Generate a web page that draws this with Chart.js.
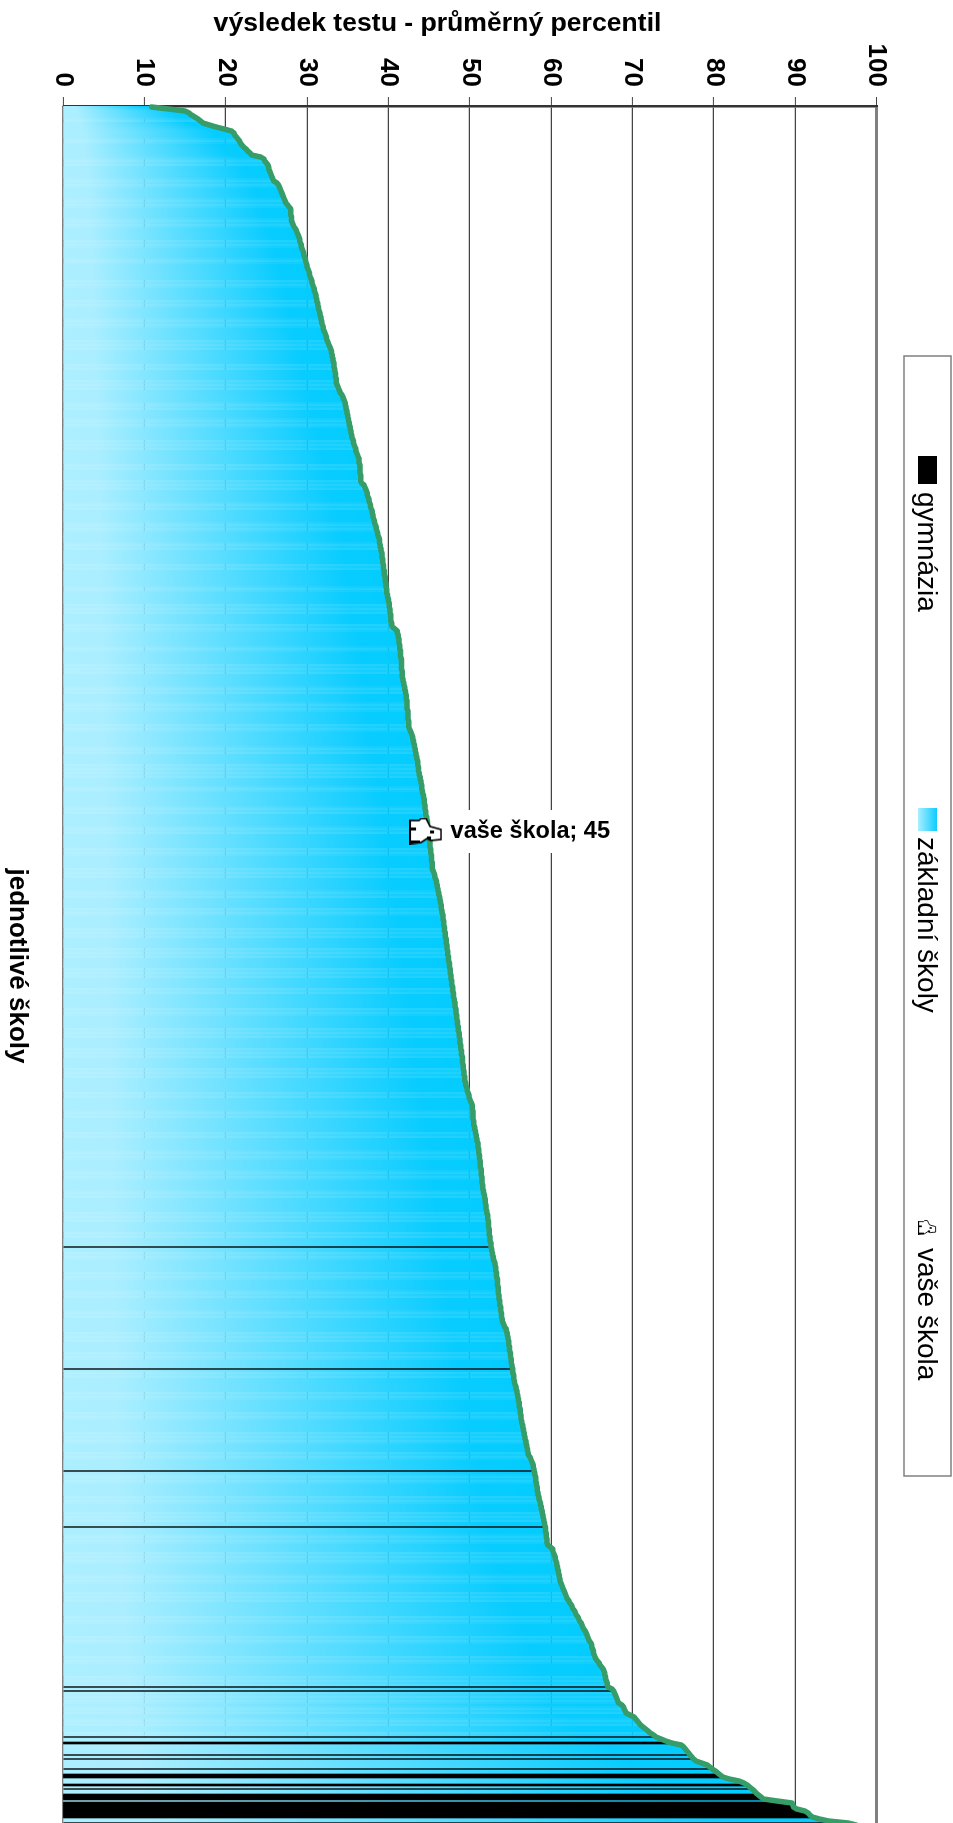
<!DOCTYPE html>
<html><head><meta charset="utf-8"><title>výsledek testu</title>
<style>
html,body{margin:0;padding:0;width:953px;height:1823px;overflow:hidden;background:#fff}
canvas{position:absolute;left:0;top:0;transform-origin:0 0;transform:translateX(953px) rotate(90deg)}
</style>
<script src="https://cdn.jsdelivr.net/npm/chart.js@4/dist/chart.umd.min.js"></script>
</head><body><canvas id="c" width="1830" height="953"></canvas>
<script>
const valueTitle = 'výsledek testu - průměrný percentil';
const categoryTitle = 'jednotlivé školy';
const seriesNames = ['gymnázia', 'základní školy', 'vaše škola'];
const yourSchoolRow = 362;
const yourSchoolValue = 45;
const schoolValues = [
10.9,13,15,15.5,15.8,16.2,16.6,16.9,17.2,18.0,
18.8,19.8,20.7,21.0,21.1,21.3,21.5,21.7,21.8,22.0,
22.2,22.5,22.7,23.0,23.2,24.3,24.7,24.8,25.0,25.2,
25.3,25.3,25.4,25.5,25.6,25.7,25.8,25.9,26.3,26.5,
26.6,26.7,26.8,26.9,27.0,27.1,27.2,27.3,27.4,27.6,
27.8,28.0,28.0,28.0,28.0,28.1,28.1,28.1,28.2,28.3,
28.4,28.6,28.7,28.8,28.9,29.0,29.1,29.1,29.2,29.3,
29.3,29.4,29.5,29.6,29.6,29.7,29.8,29.8,29.9,30.0,
30.0,30.1,30.2,30.3,30.3,30.4,30.5,30.6,30.6,30.7,
30.8,30.9,30.9,31.0,31.1,31.1,31.2,31.2,31.3,31.3,
31.4,31.4,31.5,31.6,31.6,31.7,31.7,31.8,31.8,31.9,
32.0,32.0,32.1,32.2,32.3,32.4,32.4,32.5,32.6,32.7,
32.8,32.9,33.0,33.0,33.1,33.1,33.2,33.2,33.3,33.3,
33.3,33.4,33.4,33.5,33.5,33.5,33.6,33.6,33.6,33.7,
33.8,33.9,34.0,34.1,34.3,34.4,34.5,34.6,34.7,34.7,
34.8,34.8,34.9,34.9,35.0,35.0,35.1,35.1,35.2,35.2,
35.3,35.3,35.4,35.4,35.5,35.5,35.6,35.7,35.7,35.8,
35.9,36.0,36.0,36.1,36.2,36.3,36.4,36.4,36.4,36.5,
36.5,36.5,36.5,36.5,36.6,36.6,36.6,36.6,36.7,37.0,
37.1,37.2,37.3,37.4,37.4,37.5,37.6,37.6,37.7,37.8,
37.8,37.9,38.0,38.0,38.1,38.1,38.2,38.3,38.3,38.4,
38.5,38.5,38.6,38.7,38.7,38.8,38.9,38.9,38.9,39.0,
39.0,39.1,39.1,39.2,39.2,39.2,39.3,39.3,39.3,39.4,
39.4,39.4,39.5,39.5,39.5,39.6,39.6,39.6,39.7,39.7,
39.7,39.8,39.8,39.8,39.9,39.9,40.0,40.0,40.1,40.1,
40.1,40.2,40.2,40.2,40.3,40.3,40.3,40.3,40.4,40.4,
40.5,40.8,41.1,41.1,41.2,41.2,41.3,41.3,41.3,41.4,
41.4,41.4,41.5,41.5,41.5,41.5,41.6,41.6,41.6,41.6,
41.6,41.6,41.7,41.7,41.7,41.7,41.8,41.8,41.9,41.9,
42.0,42.0,42.1,42.1,42.2,42.2,42.2,42.3,42.3,42.3,
42.3,42.3,42.4,42.4,42.4,42.4,42.4,42.5,42.5,42.5,
42.5,42.6,42.7,42.8,42.9,43.0,43.0,43.1,43.1,43.2,
43.2,43.3,43.3,43.4,43.4,43.5,43.5,43.6,43.6,43.6,
43.7,43.7,43.7,43.8,43.8,43.9,43.9,44.0,44.0,44.1,
44.1,44.1,44.2,44.2,44.3,44.3,44.4,44.4,44.4,44.5,
44.5,44.5,44.6,44.6,44.6,44.7,44.7,44.8,44.8,44.8,
44.9,44.9,45.0,45.0,45.0,45.0,45.0,45.1,45.1,45.1,
45.1,45.2,45.2,45.2,45.3,45.3,45.3,45.3,45.4,45.4,
45.4,45.4,45.5,45.6,45.7,45.7,45.8,45.9,45.9,46.0,
46.0,46.1,46.1,46.2,46.2,46.3,46.3,46.4,46.4,46.5,
46.5,46.5,46.6,46.6,46.7,46.7,46.7,46.8,46.8,46.8,
46.9,46.9,46.9,47.0,47.0,47.0,47.1,47.1,47.1,47.2,
47.2,47.2,47.3,47.3,47.3,47.4,47.4,47.4,47.5,47.5,
47.5,47.6,47.6,47.6,47.7,47.7,47.7,47.8,47.8,47.8,
47.9,47.9,47.9,48.0,48.0,48.0,48.1,48.1,48.2,48.2,
48.2,48.3,48.3,48.3,48.4,48.4,48.4,48.5,48.5,48.5,
48.6,48.6,48.6,48.7,48.7,48.7,48.8,48.8,48.8,48.9,
48.9,48.9,49.0,49.0,49.0,49.1,49.1,49.1,49.1,49.2,
49.2,49.2,49.3,49.3,49.3,49.4,49.4,49.4,49.5,49.5,
49.6,49.7,49.7,49.8,49.9,49.9,50.0,50.1,50.2,50.3,
50.3,50.3,50.4,50.4,50.4,50.4,50.4,50.5,50.5,50.5,
50.6,50.6,50.7,50.7,50.8,50.8,50.9,50.9,51.0,51.0,
51.0,51.1,51.1,51.1,51.2,51.2,51.2,51.3,51.3,51.3,
51.3,51.4,51.4,51.4,51.4,51.5,51.5,51.5,51.5,51.6,
51.6,51.6,51.7,51.7,51.8,51.8,51.9,51.9,51.9,52.0,
52.0,52.0,52.1,52.1,52.2,52.2,52.2,52.3,52.3,52.3,
52.3,52.4,52.4,52.4,52.4,52.5,52.5,52.5,52.6,52.6,
52.6,52.7,52.7,52.8,52.8,52.9,52.9,53.0,53.1,53.1,
53.2,53.2,53.2,53.3,53.3,53.3,53.4,53.4,53.4,53.4,
53.5,53.5,53.5,53.5,53.6,53.6,53.6,53.7,53.7,53.7,
53.8,53.8,53.8,53.9,53.9,53.9,54.0,54.0,54.1,54.2,
54.3,54.5,54.5,54.6,54.6,54.7,54.7,54.8,54.8,54.8,
54.9,54.9,54.9,55.0,55.0,55.0,55.1,55.1,55.1,55.2,
55.2,55.3,55.3,55.3,55.4,55.4,55.4,55.5,55.5,55.6,
55.7,55.7,55.8,55.8,55.9,55.9,56.0,56.0,56.1,56.1,
56.1,56.2,56.2,56.2,56.3,56.3,56.3,56.4,56.4,56.5,
56.5,56.6,56.6,56.7,56.7,56.8,56.8,56.9,56.9,57.0,
57.0,57.1,57.1,57.2,57.2,57.4,57.5,57.6,57.7,57.8,
57.8,57.9,57.9,58.0,58.0,58.1,58.1,58.1,58.2,58.2,
58.3,58.3,58.3,58.4,58.4,58.5,58.5,58.6,58.7,58.7,
58.8,58.8,58.9,58.9,59.0,59.0,59.1,59.1,59.2,59.2,
59.3,59.3,59.3,59.4,59.4,59.4,59.5,59.5,59.5,59.6,
59.9,60.2,60.2,60.3,60.4,60.5,60.5,60.6,60.7,60.7,
60.8,60.8,60.9,60.9,61.0,61.0,61.1,61.1,61.2,61.3,
61.4,61.5,61.6,61.7,61.8,61.9,62.0,62.2,62.3,62.5,
62.6,62.7,62.9,63.0,63.1,63.3,63.4,63.5,63.7,63.8,
63.9,64.0,64.2,64.3,64.4,64.5,64.6,64.7,64.9,65.0,
65.0,65.1,65.2,65.2,65.3,65.4,65.5,65.7,65.9,66.0,
66.2,66.4,66.5,66.6,66.6,66.7,66.7,66.8,66.9,66.9,
67.0,67.5,67.7,67.8,67.9,68.0,68.1,68.2,68.3,68.7,
68.9,69.0,69.1,69.2,69.7,70.2,70.4,70.6,70.8,71.0,
71.3,71.6,71.9,72.2,72.6,72.9,73.5,74.1,74.8,76.0,
76.3,76.5,76.7,76.9,77.1,77.3,77.5,77.8,78.5,79.2,
79.5,79.8,80.2,80.5,80.8,81.1,81.9,83.1,83.7,84.1,
84.4,84.7,85.0,85.2,85.5,85.8,86.1,87.8,89.6,89.7,
89.8,90.2,91.2,91.6,91.8,92.1,93.0,94.1,96.5,97.5
];
const gymnaziumRowsThin = [570,631,682,710,790,792,815,824,826,831,841,858];
const gymnaziumRowsSolid = [818,834,835,839,844,845,846,848,849,850,851,852,853,854,855];
const paleBandStarts = [6,16,26,36,46,56,67,76,87,97,106,117,129,137,148,156,167,179,187,198,208,218,229,240,249,259,270,279,290,298,309,320,329,340,350,360,371,381,392,401,411,421,431,441,451,461,471,481,493,502,513,522,532,542,553,563,573,583,592,602,613,623,633,643,653,663,673,684,695,703,714,723,734,743,755,765,775,785,793,800,806,813];
const paleBandEnds   = [7,18,29,40,50,60,70,78,90,100,110,121,131,141,151,160,171,181,191,201,212,221,231,242,253,262,272,283,293,302,312,323,335,342,353,363,374,385,395,404,415,425,435,443,454,465,475,485,495,505,515,526,536,545,557,565,576,586,595,605,617,626,635,646,656,668,676,688,698,707,718,728,738,747,758,768,778,789,798,803,809,815];

const rowLabels = schoolValues.map((_, i) => i + 1);
const thinSet = new Set(gymnaziumRowsThin), solidSet = new Set(gymnaziumRowsSolid);
const paleAlpha = new Map();
paleBandStarts.forEach((s, k) => { for (let r = s; r <= paleBandEnds[k]; r++) paleAlpha.set(r, r % 2 ? 0.84 : 0.93); });

function schoolFill(ctx) {
  const base = 'rgb(20,205,255)';
  if (ctx.type !== 'data' || !ctx.parsed || !Number.isFinite(ctx.parsed.y)) return base;
  const s = ctx.chart.scales.y;
  const p0 = s.getPixelForValue(0), p1 = s.getPixelForValue(ctx.parsed.y);
  if (!Number.isFinite(p0) || !Number.isFinite(p1)) return base;
  const a = paleAlpha.has(ctx.dataIndex) ? paleAlpha.get(ctx.dataIndex) : 1;
  const g = ctx.chart.ctx.createLinearGradient(0, p0, 0, p1);
  g.addColorStop(0, `rgba(172,239,255,${a})`);
  g.addColorStop(0.12, `rgba(170,238,255,${a})`);
  g.addColorStop(0.88, `rgba(8,204,255,${a})`);
  g.addColorStop(1, `rgba(4,204,255,${a})`);
  return g;
}

function makeIcon(scale) {
  const W = Math.ceil(27 * scale), H = Math.ceil(33 * scale);
  const cv = document.createElement('canvas'); cv.width = W; cv.height = H;
  const c = cv.getContext('2d');
  c.setTransform(0, -scale, scale, 0, 0, H);
  c.beginPath();
  [[1,3],[10,3],[12,1],[17,1],[21,9],[32,12],[32,22],[22,23],[18,21],[12,25],[1,26]].forEach((p,i)=> i ? c.lineTo(p[0],p[1]) : c.moveTo(p[0],p[1]));
  c.closePath();
  c.fillStyle = '#fff'; c.fill();
  c.lineWidth = scale < 1 ? 1.6 : 1.7; c.strokeStyle = '#000'; c.stroke();
  c.fillStyle = '#000';
  c.fillRect(0,10,7,3); c.fillRect(0,23,11,3); c.fillRect(0,2,2,25);
  c.fillRect(21,13,4,3); c.fillRect(18,19,4,3);
  return cv;
}
const bigIcon = makeIcon(1), smallIcon = makeIcon(0.55);

const uprightText = {
  id: 'uprightText',
  afterDraw(chart) {
    const c = chart.ctx, xs = chart.scales.x, ys = chart.scales.y;
    c.save();
    c.fillStyle = '#000';
    c.font = 'bold 26.6px "Liberation Sans"';
    c.textAlign = 'center'; c.textBaseline = 'alphabetic';
    c.translate(31, 515.5); c.rotate(-Math.PI / 2);
    c.fillText(valueTitle, 0, 0);
    c.restore();

    const u = xs.getPixelForValue(yourSchoolRow), v = ys.getPixelForValue(yourSchoolValue);
    c.save();
    c.fillStyle = '#fff';
    c.fillRect(u - 21, v - 185, 43, 168);
    c.drawImage(bigIcon, u - 13.5, v - 13);
    c.fillStyle = '#000';
    c.font = 'bold 23.5px "Liberation Sans"';
    c.textAlign = 'left'; c.textBaseline = 'alphabetic';
    c.translate(u + 7, v - 21.5); c.rotate(-Math.PI / 2);
    c.fillText(seriesNames[2] + '; ' + yourSchoolValue, 0, 0);
    c.restore();

    c.save();
    c.fillStyle = '#fff'; c.fillRect(356, 2, 1120, 47);
    c.strokeStyle = '#808080'; c.lineWidth = 1.5; c.strokeRect(356, 2, 1120, 47);
    c.fillStyle = '#000'; c.fillRect(456, 16, 28, 19);
    const lg = c.createLinearGradient(0, 35, 0, 16);
    lg.addColorStop(0, '#aaeeff'); lg.addColorStop(1, '#0cccff');
    c.fillStyle = lg; c.fillRect(808, 16, 23, 19);
    c.drawImage(smallIcon, 1220, 16);
    c.fillStyle = '#000';
    c.font = '28px "Liberation Sans"';
    c.textAlign = 'left'; c.textBaseline = 'alphabetic';
    c.fillText(seriesNames[0], 492, 35);
    c.fillText(seriesNames[1], 837, 35);
    c.fillText(seriesNames[2], 1248, 35);
    c.restore();
  }
};

new Chart(document.getElementById('c'), {
  data: {
    labels: rowLabels,
    datasets: [
      { type:'bar', label: seriesNames[1], order:4, grouped:false, barPercentage:1, categoryPercentage:1,
        data: schoolValues.map((v,i)=> solidSet.has(i) ? null : v), backgroundColor: schoolFill, borderWidth:0 },
      { type:'bar', label: seriesNames[0], order:3, grouped:false, barPercentage:1, categoryPercentage:1,
        data: schoolValues.map((v,i)=> solidSet.has(i) ? v : null), backgroundColor:'#000', borderWidth:0 },
      { type:'bar', label: seriesNames[0], order:2, grouped:false, barPercentage:0.68, categoryPercentage:1,
        data: schoolValues.map((v,i)=> thinSet.has(i) ? v : null), backgroundColor:'#000', borderWidth:0 },
      { type:'line', label:'průběh', order:1, data: schoolValues, borderColor:'#369c68', borderWidth:5.5,
        pointRadius:0, tension:0, fill:false, borderJoinStyle:'round', borderCapStyle:'round', clip:false }
    ]
  },
  options: {
    responsive:false, animation:false, events:[],
    layout:{ padding:{ top:76.5, right:4, left:0, bottom:0 } },
    plugins:{ legend:{display:false}, tooltip:{enabled:false}, title:{display:false} },
    scales:{
      x:{ type:'category', grid:{display:false}, ticks:{display:false},
          border:{color:'#808080', width:1},
          title:{ display:true, text:categoryTitle, color:'#000', padding:{top:0,bottom:2},
                  font:{ family:'"Liberation Sans"', size:26, weight:'bold' } },
          afterFit(s){ s.height = 63; } },
      y:{ type:'linear', min:0, max:100,
          ticks:{ stepSize:10, color:'#000', padding:10, font:{ family:'"Liberation Sans"', size:26, weight:'bold' } },
          grid:{ color:c=> c.tick && c.tick.value===100 ? '#808080' : '#444', lineWidth:c=> c.tick && c.tick.value===100 ? 3 : 1.2,
                 tickLength:9, tickColor:'#444', tickWidth:1 },
          border:{ color:'#333', width:2.5 },
          afterFit(s){ s.width = 106; } }
    }
  },
  plugins:[uprightText]
});
</script></body></html>
